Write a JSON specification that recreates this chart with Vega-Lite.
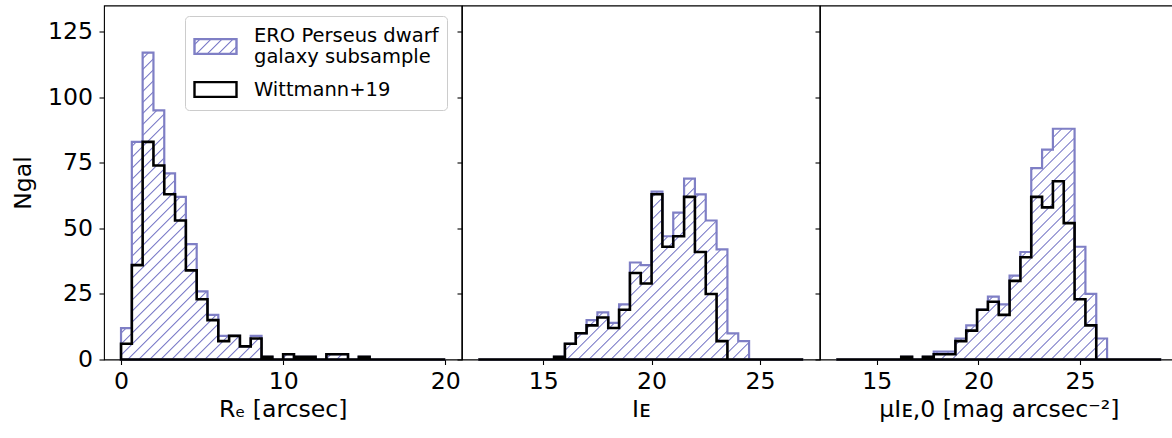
{
  "$schema": "https://vega.github.io/schema/vega-lite/v6.json",
  "background": "white",
  "padding": {"left": 10, "top": 4.5, "right": 0, "bottom": 0},
  "bounds": "flush",
  "spacing": 0,
  "params": [
    {"name": "hs", "value": [
      {"offset":0.0075,"color":"#fff"},{"offset":0.01,"color":"#6f6fc3"},{"offset":0.0125,"color":"#fff"},
      {"offset":0.0275,"color":"#fff"},{"offset":0.03,"color":"#6f6fc3"},{"offset":0.0325,"color":"#fff"},
      {"offset":0.0475,"color":"#fff"},{"offset":0.05,"color":"#6f6fc3"},{"offset":0.0525,"color":"#fff"},
      {"offset":0.0675,"color":"#fff"},{"offset":0.07,"color":"#6f6fc3"},{"offset":0.0725,"color":"#fff"},
      {"offset":0.0875,"color":"#fff"},{"offset":0.09,"color":"#6f6fc3"},{"offset":0.0925,"color":"#fff"},
      {"offset":0.1075,"color":"#fff"},{"offset":0.11,"color":"#6f6fc3"},{"offset":0.1125,"color":"#fff"},
      {"offset":0.1275,"color":"#fff"},{"offset":0.13,"color":"#6f6fc3"},{"offset":0.1325,"color":"#fff"},
      {"offset":0.1475,"color":"#fff"},{"offset":0.15,"color":"#6f6fc3"},{"offset":0.1525,"color":"#fff"},
      {"offset":0.1675,"color":"#fff"},{"offset":0.17,"color":"#6f6fc3"},{"offset":0.1725,"color":"#fff"},
      {"offset":0.1875,"color":"#fff"},{"offset":0.19,"color":"#6f6fc3"},{"offset":0.1925,"color":"#fff"},
      {"offset":0.2075,"color":"#fff"},{"offset":0.21,"color":"#6f6fc3"},{"offset":0.2125,"color":"#fff"},
      {"offset":0.2275,"color":"#fff"},{"offset":0.23,"color":"#6f6fc3"},{"offset":0.2325,"color":"#fff"},
      {"offset":0.2475,"color":"#fff"},{"offset":0.25,"color":"#6f6fc3"},{"offset":0.2525,"color":"#fff"},
      {"offset":0.2675,"color":"#fff"},{"offset":0.27,"color":"#6f6fc3"},{"offset":0.2725,"color":"#fff"},
      {"offset":0.2875,"color":"#fff"},{"offset":0.29,"color":"#6f6fc3"},{"offset":0.2925,"color":"#fff"},
      {"offset":0.3075,"color":"#fff"},{"offset":0.31,"color":"#6f6fc3"},{"offset":0.3125,"color":"#fff"},
      {"offset":0.3275,"color":"#fff"},{"offset":0.33,"color":"#6f6fc3"},{"offset":0.3325,"color":"#fff"},
      {"offset":0.3475,"color":"#fff"},{"offset":0.35,"color":"#6f6fc3"},{"offset":0.3525,"color":"#fff"},
      {"offset":0.3675,"color":"#fff"},{"offset":0.37,"color":"#6f6fc3"},{"offset":0.3725,"color":"#fff"},
      {"offset":0.3875,"color":"#fff"},{"offset":0.39,"color":"#6f6fc3"},{"offset":0.3925,"color":"#fff"},
      {"offset":0.4075,"color":"#fff"},{"offset":0.41,"color":"#6f6fc3"},{"offset":0.4125,"color":"#fff"},
      {"offset":0.4275,"color":"#fff"},{"offset":0.43,"color":"#6f6fc3"},{"offset":0.4325,"color":"#fff"},
      {"offset":0.4475,"color":"#fff"},{"offset":0.45,"color":"#6f6fc3"},{"offset":0.4525,"color":"#fff"},
      {"offset":0.4675,"color":"#fff"},{"offset":0.47,"color":"#6f6fc3"},{"offset":0.4725,"color":"#fff"},
      {"offset":0.4875,"color":"#fff"},{"offset":0.49,"color":"#6f6fc3"},{"offset":0.4925,"color":"#fff"},
      {"offset":0.5075,"color":"#fff"},{"offset":0.51,"color":"#6f6fc3"},{"offset":0.5125,"color":"#fff"},
      {"offset":0.5275,"color":"#fff"},{"offset":0.53,"color":"#6f6fc3"},{"offset":0.5325,"color":"#fff"},
      {"offset":0.5475,"color":"#fff"},{"offset":0.55,"color":"#6f6fc3"},{"offset":0.5525,"color":"#fff"},
      {"offset":0.5675,"color":"#fff"},{"offset":0.57,"color":"#6f6fc3"},{"offset":0.5725,"color":"#fff"},
      {"offset":0.5875,"color":"#fff"},{"offset":0.59,"color":"#6f6fc3"},{"offset":0.5925,"color":"#fff"},
      {"offset":0.6075,"color":"#fff"},{"offset":0.61,"color":"#6f6fc3"},{"offset":0.6125,"color":"#fff"},
      {"offset":0.6275,"color":"#fff"},{"offset":0.63,"color":"#6f6fc3"},{"offset":0.6325,"color":"#fff"},
      {"offset":0.6475,"color":"#fff"},{"offset":0.65,"color":"#6f6fc3"},{"offset":0.6525,"color":"#fff"},
      {"offset":0.6675,"color":"#fff"},{"offset":0.67,"color":"#6f6fc3"},{"offset":0.6725,"color":"#fff"},
      {"offset":0.6875,"color":"#fff"},{"offset":0.69,"color":"#6f6fc3"},{"offset":0.6925,"color":"#fff"},
      {"offset":0.7075,"color":"#fff"},{"offset":0.71,"color":"#6f6fc3"},{"offset":0.7125,"color":"#fff"},
      {"offset":0.7275,"color":"#fff"},{"offset":0.73,"color":"#6f6fc3"},{"offset":0.7325,"color":"#fff"},
      {"offset":0.7475,"color":"#fff"},{"offset":0.75,"color":"#6f6fc3"},{"offset":0.7525,"color":"#fff"},
      {"offset":0.7675,"color":"#fff"},{"offset":0.77,"color":"#6f6fc3"},{"offset":0.7725,"color":"#fff"},
      {"offset":0.7875,"color":"#fff"},{"offset":0.79,"color":"#6f6fc3"},{"offset":0.7925,"color":"#fff"},
      {"offset":0.8075,"color":"#fff"},{"offset":0.81,"color":"#6f6fc3"},{"offset":0.8125,"color":"#fff"},
      {"offset":0.8275,"color":"#fff"},{"offset":0.83,"color":"#6f6fc3"},{"offset":0.8325,"color":"#fff"},
      {"offset":0.8475,"color":"#fff"},{"offset":0.85,"color":"#6f6fc3"},{"offset":0.8525,"color":"#fff"},
      {"offset":0.8675,"color":"#fff"},{"offset":0.87,"color":"#6f6fc3"},{"offset":0.8725,"color":"#fff"},
      {"offset":0.8875,"color":"#fff"},{"offset":0.89,"color":"#6f6fc3"},{"offset":0.8925,"color":"#fff"},
      {"offset":0.9075,"color":"#fff"},{"offset":0.91,"color":"#6f6fc3"},{"offset":0.9125,"color":"#fff"},
      {"offset":0.9275,"color":"#fff"},{"offset":0.93,"color":"#6f6fc3"},{"offset":0.9325,"color":"#fff"},
      {"offset":0.9475,"color":"#fff"},{"offset":0.95,"color":"#6f6fc3"},{"offset":0.9525,"color":"#fff"},
      {"offset":0.9675,"color":"#fff"},{"offset":0.97,"color":"#6f6fc3"},{"offset":0.9725,"color":"#fff"},
      {"offset":0.9875,"color":"#fff"},{"offset":0.99,"color":"#6f6fc3"},{"offset":0.9925,"color":"#fff"}
    ]}
  ],
  "config": {
    "font": "DejaVu Sans",
    "view": {"stroke": "black", "strokeWidth": 1.1},
    "concat": {"spacing": 0},
    "axis": {
      "domain": false, "grid": false, "tickColor": "black", "tickSize": 5, "tickWidth": 1.1,
      "labelFont": "DejaVu Sans", "labelFontSize": 23.6, "labelColor": "black",
      "labelFlush": false, "labelOverlap": false, "labelBound": false,
      "titleFont": "DejaVu Sans", "titleFontSize": 23.6, "titleFontWeight": "normal", "titleColor": "black"
    },
    "axisX": {"labelPadding": 4.5, "titlePadding": 5},
    "axisY": {"labelPadding": 6.5, "titlePadding": 12}
  },
  "resolve": {"scale": {"stroke": "independent"}, "legend": {"stroke": "independent"}},
  "datasets": {
    "R_ERO": [
      {"x":0,"n":12},{"x":0.6667,"n":83},{"x":1.3333,"n":117},{"x":2,"n":95},{"x":2.6667,"n":71},{"x":3.3333,"n":62},
      {"x":4,"n":44},{"x":4.6667,"n":26},{"x":5.3333,"n":17},{"x":6,"n":9},{"x":6.6667,"n":9},{"x":7.3333,"n":5},
      {"x":8,"n":9},{"x":8.6667,"n":1},{"x":9.3333,"n":0},{"x":10,"n":2},{"x":10.6667,"n":1},{"x":11.3333,"n":1},
      {"x":12,"n":0},{"x":12.6667,"n":2},{"x":13.3333,"n":2},{"x":14,"n":0},{"x":14.6667,"n":1},{"x":15.3333,"n":0},
      {"x":16,"n":0},{"x":16.6667,"n":0},{"x":17.3333,"n":0},{"x":18,"n":0},{"x":18.6667,"n":0},{"x":19.3333,"n":0},
      {"x":20,"n":0}
    ],
    "R_W19": [
      {"x":0,"n":6},{"x":0.6667,"n":36},{"x":1.3333,"n":83},{"x":2,"n":74},{"x":2.6667,"n":63},{"x":3.3333,"n":53},
      {"x":4,"n":34},{"x":4.6667,"n":23},{"x":5.3333,"n":15},{"x":6,"n":7},{"x":6.6667,"n":9},{"x":7.3333,"n":5},
      {"x":8,"n":8},{"x":8.6667,"n":1},{"x":9.3333,"n":0},{"x":10,"n":2},{"x":10.6667,"n":1},{"x":11.3333,"n":1},
      {"x":12,"n":0},{"x":12.6667,"n":2},{"x":13.3333,"n":2},{"x":14,"n":0},{"x":14.6667,"n":1},{"x":15.3333,"n":0},
      {"x":16,"n":0},{"x":16.6667,"n":0},{"x":17.3333,"n":0},{"x":18,"n":0},{"x":18.6667,"n":0},{"x":19.3333,"n":0},
      {"x":20,"n":0}
    ],
    "I_ERO": [
      {"x":12,"n":0},{"x":12.5,"n":0},{"x":13,"n":0},{"x":13.5,"n":0},{"x":14,"n":0},{"x":14.5,"n":0},
      {"x":15,"n":0},{"x":15.5,"n":1},{"x":16,"n":6},{"x":16.5,"n":10},{"x":17,"n":15},{"x":17.5,"n":18},
      {"x":18,"n":14},{"x":18.5,"n":21},{"x":19,"n":37},{"x":19.5,"n":36},{"x":20,"n":64},{"x":20.5,"n":47},
      {"x":21,"n":56},{"x":21.5,"n":69},{"x":22,"n":63},{"x":22.5,"n":53},{"x":23,"n":42},{"x":23.5,"n":10},
      {"x":24,"n":7},{"x":24.5,"n":0},{"x":25,"n":0},{"x":25.5,"n":0},{"x":26,"n":0},{"x":26.5,"n":0},
      {"x":27,"n":0}
    ],
    "I_W19": [
      {"x":12,"n":0},{"x":12.5,"n":0},{"x":13,"n":0},{"x":13.5,"n":0},{"x":14,"n":0},{"x":14.5,"n":0},
      {"x":15,"n":0},{"x":15.5,"n":1},{"x":16,"n":6},{"x":16.5,"n":10},{"x":17,"n":13},{"x":17.5,"n":16},
      {"x":18,"n":12},{"x":18.5,"n":19},{"x":19,"n":33},{"x":19.5,"n":29},{"x":20,"n":63},{"x":20.5,"n":43},
      {"x":21,"n":47},{"x":21.5,"n":62},{"x":22,"n":41},{"x":22.5,"n":25},{"x":23,"n":7},{"x":23.5,"n":0},
      {"x":24,"n":0},{"x":24.5,"n":0},{"x":25,"n":0},{"x":25.5,"n":0},{"x":26,"n":0},{"x":26.5,"n":0},
      {"x":27,"n":0}
    ],
    "M_ERO": [
      {"x":13,"n":0},{"x":13.5333,"n":0},{"x":14.0667,"n":0},{"x":14.6,"n":0},{"x":15.1333,"n":0},{"x":15.6667,"n":0},
      {"x":16.2,"n":1},{"x":16.7333,"n":0},{"x":17.2667,"n":1},{"x":17.8,"n":3},{"x":18.3333,"n":3},{"x":18.8667,"n":8},
      {"x":19.4,"n":13},{"x":19.9333,"n":19},{"x":20.4667,"n":24},{"x":21,"n":21},{"x":21.5333,"n":32},{"x":22.0667,"n":41},
      {"x":22.6,"n":73},{"x":23.1333,"n":80},{"x":23.6667,"n":88},{"x":24.2,"n":88},{"x":24.7333,"n":43},{"x":25.2667,"n":25},
      {"x":25.8,"n":8},{"x":26.3333,"n":0},{"x":26.8667,"n":0},{"x":27.4,"n":0},{"x":27.9333,"n":0},{"x":28.4667,"n":0},
      {"x":29,"n":0}
    ],
    "M_W19": [
      {"x":13,"n":0},{"x":13.5333,"n":0},{"x":14.0667,"n":0},{"x":14.6,"n":0},{"x":15.1333,"n":0},{"x":15.6667,"n":0},
      {"x":16.2,"n":1},{"x":16.7333,"n":0},{"x":17.2667,"n":1},{"x":17.8,"n":2},{"x":18.3333,"n":2},{"x":18.8667,"n":7},
      {"x":19.4,"n":11},{"x":19.9333,"n":19},{"x":20.4667,"n":22},{"x":21,"n":17},{"x":21.5333,"n":30},{"x":22.0667,"n":39},
      {"x":22.6,"n":62},{"x":23.1333,"n":58},{"x":23.6667,"n":68},{"x":24.2,"n":52},{"x":24.7333,"n":23},{"x":25.2667,"n":13},
      {"x":25.8,"n":0},{"x":26.3333,"n":0},{"x":26.8667,"n":0},{"x":27.4,"n":0},{"x":27.9333,"n":0},{"x":28.4667,"n":0},
      {"x":29,"n":0}
    ]
  },
  "hconcat": [
    {
      "width": 357.5, "height": 354,
      "encoding": {
        "x": {"field": "x", "type": "quantitative", "scale": {"domain": [-1.05, 21], "nice": false, "zero": false},
              "axis": {"values": [0, 10, 20], "title": "Rₑ [arcsec]"}},
        "y": {"field": "n", "type": "quantitative", "stack": null, "scale": {"domain": [0, 135], "nice": false},
              "axis": {"values": [0, 25, 50, 75, 100, 125], "title": "Ngal"}}
      },
      "layer": [
        {
          "data": {"name": "R_ERO"},
          "mark": {"type": "area", "interpolate": "step-after", "opacity": 1, "strokeWidth": 2.2,
                   "fill": {"expr": "{gradient: 'linear', x1: 0, y1: 0, x2: 0.8949, y2: 0.8467, stops: hs}"}},
          "encoding": {
            "stroke": {"datum": "ERO", "type": "nominal",
              "scale": {"domain": ["ERO", "W19"], "range": ["#7f7fc5", "black"]},
              "legend": {
                "orient": "none", "legendX": 81, "legendY": 10.5, "title": null,
                "symbolType": "M-1,-0.35H1V0.35H-1Z", "symbolSize": 1764, "symbolStrokeWidth": 2.4,
                "labelFont": "DejaVu Sans", "labelFontSize": 19.5, "labelColor": "black", "labelLimit": 400,
                "labelOffset": 16, "padding": 8, "rowPadding": -3,
                "strokeColor": "#cccccc", "fillColor": "white", "cornerRadius": 4,
                "labelExpr": "datum.value == 'ERO' ? ['ERO Perseus dwarf', 'galaxy subsample'] : 'Wittmann+19'",
                "encoding": {
                  "symbols": {
                    "fill": {
                      "condition": {"test": "datum.value == 'ERO'", "value": {"gradient": "linear", "x1": 0, "y1": 0, "x2": 1.1666, "y2": 0.4083, "stops": [
                        {"offset":0.075,"color":"#fff"},{"offset":0.1,"color":"#6f6fc3"},{"offset":0.125,"color":"#fff"},
                        {"offset":0.275,"color":"#fff"},{"offset":0.3,"color":"#6f6fc3"},{"offset":0.325,"color":"#fff"},
                        {"offset":0.475,"color":"#fff"},{"offset":0.5,"color":"#6f6fc3"},{"offset":0.525,"color":"#fff"},
                        {"offset":0.675,"color":"#fff"},{"offset":0.7,"color":"#6f6fc3"},{"offset":0.725,"color":"#fff"},
                        {"offset":0.875,"color":"#fff"},{"offset":0.9,"color":"#6f6fc3"},{"offset":0.925,"color":"#fff"}
                      ]}},
                      "value": "transparent"
                    }
                  },
                  "labels": {
                    "dy": {"condition": {"test": "datum.value == 'ERO'", "value": -11}, "value": 0}
                  }
                }
              }
            }
          }
        },
        {
          "data": {"name": "R_W19"},
          "mark": {"type": "area", "interpolate": "step-after", "opacity": 1, "strokeWidth": 2.6, "fill": "transparent"},
          "encoding": {"stroke": {"datum": "W19", "type": "nominal"}}
        }
      ]
    },
    {
      "width": 357.5, "height": 354,
      "encoding": {
        "x": {"field": "x", "type": "quantitative", "scale": {"domain": [11.25, 27.75], "nice": false, "zero": false},
              "axis": {"values": [15, 20, 25], "title": "Iᴇ"}},
        "y": {"field": "n", "type": "quantitative", "stack": null, "scale": {"domain": [0, 135], "nice": false},
              "axis": {"values": [0, 25, 50, 75, 100, 125], "labels": false, "title": null}}
      },
      "layer": [
        {
          "data": {"name": "I_ERO"},
          "mark": {"type": "area", "interpolate": "step-after", "opacity": 1, "strokeWidth": 2.2, "stroke": "#7f7fc5",
                   "fill": {"expr": "{gradient: 'linear', x1: 0, y1: 0, x2: 1.292, y2: 0.7191, stops: hs}"}}
        },
        {
          "data": {"name": "I_W19"},
          "mark": {"type": "area", "interpolate": "step-after", "opacity": 1, "strokeWidth": 2.6, "stroke": "black", "fill": "transparent"}
        }
      ]
    },
    {
      "width": 357.5, "height": 354,
      "encoding": {
        "x": {"field": "x", "type": "quantitative", "scale": {"domain": [12.2, 29.8], "nice": false, "zero": false},
              "axis": {"values": [15, 20, 25], "title": "μIᴇ,0 [mag arcsec⁻²]"}},
        "y": {"field": "n", "type": "quantitative", "stack": null, "scale": {"domain": [0, 135], "nice": false},
              "axis": {"values": [0, 25, 50, 75, 100, 125], "labels": false, "title": null}}
      },
      "layer": [
        {
          "data": {"name": "M_ERO"},
          "mark": {"type": "area", "interpolate": "step-after", "opacity": 1, "strokeWidth": 2.2, "stroke": "#7f7fc5",
                   "fill": {"expr": "{gradient: 'linear', x1: 0, y1: 0, x2: 1.1252, y2: 0.7988, stops: hs}"}}
        },
        {
          "data": {"name": "M_W19"},
          "mark": {"type": "area", "interpolate": "step-after", "opacity": 1, "strokeWidth": 2.6, "stroke": "black", "fill": "transparent"}
        }
      ]
    }
  ]
}
